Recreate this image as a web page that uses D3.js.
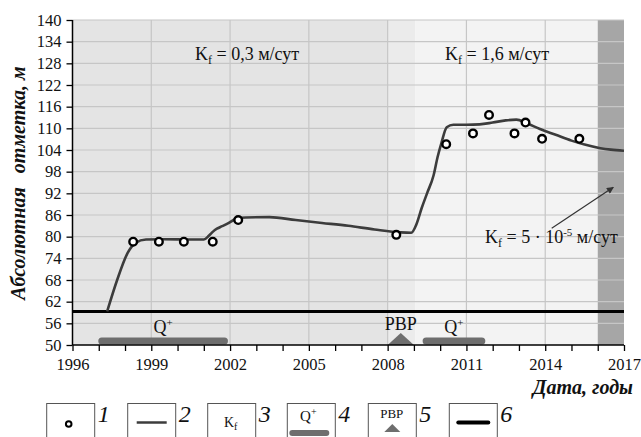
<!DOCTYPE html>
<html><head><meta charset="utf-8">
<script src="https://cdn.jsdelivr.net/npm/d3@7"></script>
<style>body{margin:0;background:#fff}svg{display:block}svg text{font-family:"Liberation Serif","Times New Roman",serif !important}</style>
</head><body>
<svg id="c" width="641" height="437"></svg>
<script>
// ---- data ----
const xTickYears = [1996, 1999, 2002, 2005, 2008, 2011, 2014, 2017];
const yTickValues = [50, 56, 62, 68, 74, 80, 86, 92, 98, 104, 110, 116, 122, 128, 134, 140];
const obsYears  = [1998.31, 1999.29, 2000.24, 2001.34, 2002.31, 2008.33, 2010.23, 2011.25, 2011.86, 2012.83, 2013.25, 2013.88, 2015.3];
const obsValues = [78.6, 78.6, 78.6, 78.6, 84.6, 80.5, 105.6, 108.6, 113.7, 108.6, 111.6, 107.1, 107.1];
const modelYears  = [1997.32, 1997.7, 1998.1, 1998.4, 1998.8, 1999.5, 2000.5, 2001.0, 2001.2, 2001.35, 2001.5, 2001.7, 2001.9, 2002.25, 2002.6, 2003.5, 2004.5, 2005.5, 2006.5, 2007.5, 2008.5, 2008.9, 2009.1, 2009.3, 2009.5, 2009.75, 2009.9, 2010.05, 2010.25, 2010.5, 2011.0, 2011.5, 2012.0, 2012.5, 2012.9, 2013.3, 2013.8, 2014.4, 2015.0, 2015.5, 2016.1, 2016.5, 2017.0];
const modelValues = [59.3, 68, 75.5, 78.3, 79.2, 79.3, 79.2, 79.2, 80.3, 81.4, 82.2, 82.9, 83.6, 85.0, 85.3, 85.4, 84.6, 83.8, 83.0, 82.0, 81.2, 81.1, 83.5, 88, 92, 97, 102, 106, 110.3, 111.0, 111.0, 111.1, 111.6, 112.2, 112.4, 111.4, 109.8, 108.2, 106.6, 105.5, 104.5, 104.1, 103.8];
const baseLevel = 59.3;
const zoneStarts = [1996, 2008, 2009.05, 2016];
const zoneEnds   = [2008, 2009.05, 2016, 2017];
const zoneFills  = ["#e4e4e4", "#ebebeb", "#f3f3f3", "#a6a6a6"];
const qStarts = [1997.0, 2009.35];
const qEnds   = [2001.9, 2011.7];
const rvrStart = 2008.0, rvrEnd = 2009.0;
const legendNums = ["1", "2", "3", "4", "5", "6"];

// ---- layout ----
const FONT = "'Liberation Serif', 'Times New Roman', serif";
const svg = d3.select("#c");
const L = 72.5, R = 624, T = 20, B = 345;
const x = d3.scaleLinear().domain([1996, 2017]).range([L, R]);
const y = d3.scaleLinear().domain([50, 140]).range([B, T]);

// zones
svg.selectAll("rect.zone").data(zoneStarts).enter().append("rect")
  .attr("x", (d) => x(d)).attr("y", T)
  .attr("width", (d, i) => x(zoneEnds[i]) - x(d)).attr("height", B - T)
  .attr("fill", (d, i) => zoneFills[i]);

// grid
svg.append("g").selectAll("line").data(yTickValues.slice(1)).enter().append("line")
  .attr("x1", L).attr("x2", R).attr("y1", (d) => y(d)).attr("y2", (d) => y(d))
  .attr("stroke", "#c6c6c6").attr("stroke-width", 1.2);
svg.append("g").selectAll("line").data(xTickYears.slice(1, -1)).enter().append("line")
  .attr("y1", T).attr("y2", B).attr("x1", (d) => x(d)).attr("x2", (d) => x(d))
  .attr("stroke", "#c6c6c6").attr("stroke-width", 1.2);

// annotations in plot
function kf(g, px, py, rest, sup, rest2) {
  const t = g.append("text").attr("x", px).attr("y", py).attr("font-size", 18).attr("fill", "#111");
  t.append("tspan").text("K");
  t.append("tspan").attr("font-size", 12).attr("dy", 4).text("f");
  t.append("tspan").attr("dy", -4).text(rest);
  if (sup) {
    t.append("tspan").attr("font-size", 11).attr("dy", -7).text(sup);
    t.append("tspan").attr("dy", 7).text(rest2);
  }
  return t;
}
kf(svg, 195, 60, " = 0,3 м/сут");
kf(svg, 445, 60, " = 1,6 м/сут");

// base level line
svg.append("line").attr("x1", L).attr("x2", R).attr("y1", y(baseLevel)).attr("y2", y(baseLevel))
  .attr("stroke", "#000").attr("stroke-width", 3);

// model line
const line = d3.line().x((d, i) => x(modelYears[i])).y((d) => y(d)).curve(d3.curveMonotoneX);
svg.append("path").attr("d", line(modelValues)).attr("fill", "none")
  .attr("stroke", "#3c3c3c").attr("stroke-width", 2.6);

// observations
svg.selectAll("circle.obs").data(obsValues).enter().append("circle")
  .attr("cx", (d, i) => x(obsYears[i])).attr("cy", (d) => y(d)).attr("r", 3.8)
  .attr("fill", "#fff").attr("stroke", "#000").attr("stroke-width", 2.4);

// Q+ bars
const barY = 341;
svg.selectAll("line.q").data(qStarts).enter().append("line")
  .attr("x1", (d) => x(d) + 3).attr("x2", (d, i) => x(qEnds[i]) - 3)
  .attr("y1", barY).attr("y2", barY)
  .attr("stroke", "#6e6e6e").attr("stroke-width", 7).attr("stroke-linecap", "round");
svg.selectAll("text.q").data(qStarts).enter().append("text")
  .attr("x", (d, i) => (x(d) + x(qEnds[i])) / 2).attr("y", 333)
  .attr("text-anchor", "middle").attr("font-size", 18).attr("fill", "#111")
  .each(function () {
    d3.select(this).append("tspan").text("Q");
    d3.select(this).append("tspan").attr("font-size", 11).attr("dy", -7).text("+");
  });

// РВР triangle
svg.append("path")
  .attr("d", `M${x(rvrStart)},${B} L${(x(rvrStart) + x(rvrEnd)) / 2},${B - 12} L${x(rvrEnd)},${B} Z`)
  .attr("fill", "#6e6e6e");
svg.append("text").attr("x", (x(rvrStart) + x(rvrEnd)) / 2).attr("y", 330)
  .attr("text-anchor", "middle").attr("font-size", 18).attr("fill", "#111").text("РВР");

// Kf = 5e-5 annotation
svg.append("defs").append("marker").attr("id", "ar").attr("viewBox", "0 0 10 10")
  .attr("refX", 9).attr("refY", 5).attr("markerWidth", 9).attr("markerHeight", 7)
  .attr("markerUnits", "userSpaceOnUse").attr("orient", "auto")
  .append("path").attr("d", "M0,0 L10,5 L0,10 Z").attr("fill", "#333");
svg.append("line").attr("x1", 551.7).attr("y1", 228.3).attr("x2", 613.3).attr("y2", 187.3)
  .attr("stroke", "#333").attr("stroke-width", 1.2).attr("marker-end", "url(#ar)");
kf(svg, 485, 243, " = 5 · 10", "-5", " м/сут");

// axes
const yAxis = svg.append("g").attr("transform", `translate(${L},0)`)
  .call(d3.axisLeft(y).tickValues(yTickValues).tickSize(6).tickPadding(5).tickFormat(d3.format("d")));
const xAxis = svg.append("g").attr("transform", `translate(0,${B})`)
  .call(d3.axisBottom(x).tickValues(d3.range(1996, 2018)).tickSize(6).tickPadding(7)
    .tickFormat((d) => xTickYears.includes(d) ? String(d) : ""));
[yAxis, xAxis].forEach((a) => {
  a.attr("font-family", null).style("font-family", FONT).attr("font-size", 16.5);
  a.select(".domain").attr("stroke", "#000").attr("stroke-width", 1.5);
  a.selectAll(".tick line").attr("stroke", "#000").attr("stroke-width", 1.3);
  a.selectAll("text").style("font-family", FONT).attr("font-size", 16.5).attr("fill", "#111");
});
yAxis.select(".domain").attr("d", `M-0,${B}V${T}`);
xAxis.select(".domain").attr("d", `M${L},0H${R}`);

// axis titles
const yt = svg.append("text").attr("transform", "translate(25,183) rotate(-90)")
  .attr("text-anchor", "middle").attr("font-size", 20).attr("font-weight", "bold")
  .attr("font-style", "italic").attr("fill", "#111");
yt.append("tspan").text("Абсолютная");
yt.append("tspan").attr("dx", 14).text("отметка, м");
svg.append("text").attr("x", 633).attr("y", 394).attr("text-anchor", "end")
  .attr("font-size", 20).attr("font-weight", "bold").attr("font-style", "italic")
  .attr("fill", "#111").text("Дата, годы");

// legend
const legX = [46.7, 127.7, 207.7, 287.3, 368.3, 449.3];
const lg = svg.append("g");
legendNums.forEach((n, i) => {
  const bx = legX[i], cx = bx + 24;
  lg.append("rect").attr("x", bx).attr("y", 403.5).attr("width", 48).attr("height", 45)
    .attr("fill", "#fff").attr("stroke", "#555").attr("stroke-width", 1);
  lg.append("text").attr("x", bx + 51).attr("y", 422).attr("font-size", 24)
    .attr("font-style", "italic").attr("fill", "#111").text(n);
  if (i === 0) {
    lg.append("circle").attr("cx", cx - 2).attr("cy", 424).attr("r", 2.8)
      .attr("fill", "#fff").attr("stroke", "#000").attr("stroke-width", 2);
  } else if (i === 1) {
    lg.append("line").attr("x1", cx - 15).attr("x2", cx + 15).attr("y1", 422.5).attr("y2", 422.5)
      .attr("stroke", "#3c3c3c").attr("stroke-width", 2.5);
  } else if (i === 2) {
    const t = lg.append("text").attr("x", cx - 1).attr("y", 427).attr("text-anchor", "middle")
      .attr("font-size", 14).attr("fill", "#111");
    t.append("tspan").text("K");
    t.append("tspan").attr("font-size", 10).attr("dy", 3).text("f");
  } else if (i === 3) {
    const t = lg.append("text").attr("x", cx - 3).attr("y", 421).attr("text-anchor", "middle")
      .attr("font-size", 15).attr("fill", "#111");
    t.append("tspan").text("Q");
    t.append("tspan").attr("font-size", 10).attr("dy", -6).text("+");
    lg.append("line").attr("x1", cx - 19).attr("x2", cx + 15).attr("y1", 433).attr("y2", 433)
      .attr("stroke", "#6e6e6e").attr("stroke-width", 6).attr("stroke-linecap", "round");
  } else if (i === 4) {
    lg.append("text").attr("x", cx - 0.5).attr("y", 418).attr("text-anchor", "middle")
      .attr("font-size", 13).attr("fill", "#111").text("РВР");
    lg.append("path").attr("d", `M${cx - 8},432 L${cx},424 L${cx + 8},432 Z`).attr("fill", "#6e6e6e");
  } else {
    lg.append("line").attr("x1", cx - 15).attr("x2", cx + 15).attr("y1", 422.5).attr("y2", 422.5)
      .attr("stroke", "#000").attr("stroke-width", 4).attr("stroke-linecap", "round");
  }
});
</script>
</body></html>
